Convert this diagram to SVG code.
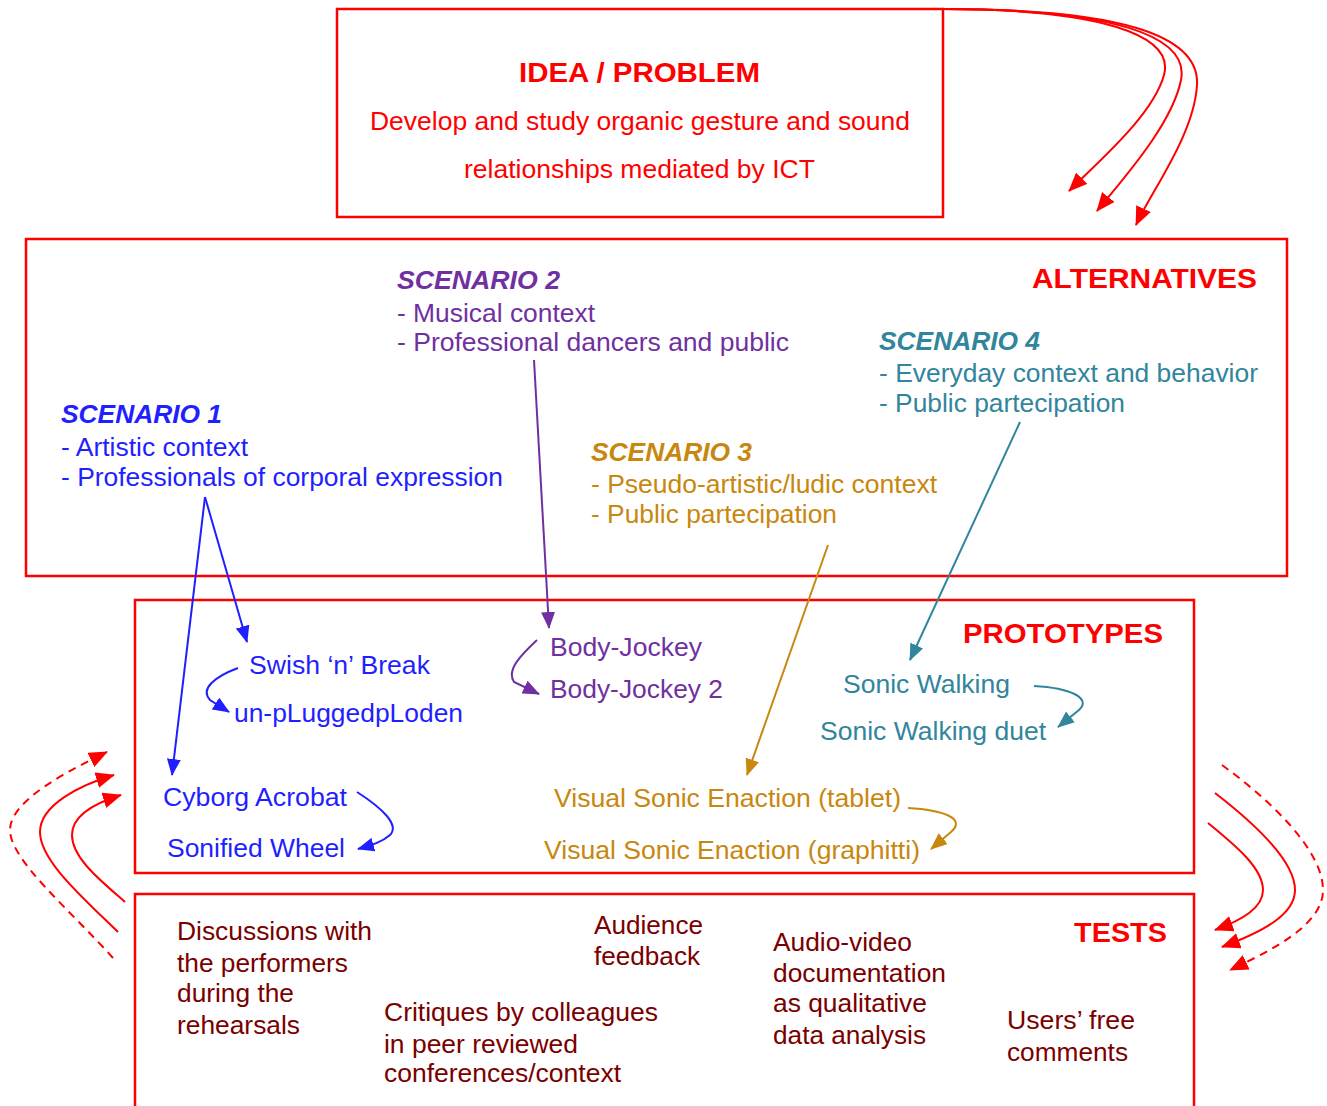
<svg xmlns="http://www.w3.org/2000/svg" width="1327" height="1106" viewBox="0 0 1327 1106">
<style>
text{font-family:"Liberation Sans",Arial,sans-serif;font-size:25px}
.box{fill:none;stroke:#ff0000;stroke-width:2.5}
.ttl{font-weight:bold;font-size:28px;fill:#ff0000}
.red{fill:#ff0000}
.sc{font-weight:bold;font-style:italic}
.b{fill:#1f1fff}.p{fill:#7030a0}.t{fill:#31859c}.g{fill:#c8870e}.d{fill:#7a0000}
.cb{fill:none;stroke:#1f1fff;stroke-width:2}
.cp{fill:none;stroke:#7030a0;stroke-width:2}
.ct{fill:none;stroke:#31859c;stroke-width:2}
.cg{fill:none;stroke:#c8870e;stroke-width:2}
.cr{fill:none;stroke:#ff0000;stroke-width:2}
.dash{stroke-dasharray:8,6}
</style>
<defs>
<marker id="ab" markerUnits="userSpaceOnUse" markerWidth="17" markerHeight="14" refX="16" refY="7" orient="auto"><path d="M0,0 L17,7 L0,14 z" fill="#1f1fff"/></marker>
<marker id="ap" markerUnits="userSpaceOnUse" markerWidth="17" markerHeight="14" refX="16" refY="7" orient="auto"><path d="M0,0 L17,7 L0,14 z" fill="#7030a0"/></marker>
<marker id="at" markerUnits="userSpaceOnUse" markerWidth="17" markerHeight="14" refX="16" refY="7" orient="auto"><path d="M0,0 L17,7 L0,14 z" fill="#31859c"/></marker>
<marker id="ag" markerUnits="userSpaceOnUse" markerWidth="17" markerHeight="14" refX="16" refY="7" orient="auto"><path d="M0,0 L17,7 L0,14 z" fill="#c8870e"/></marker>
<marker id="ar" markerUnits="userSpaceOnUse" markerWidth="19" markerHeight="16" refX="18" refY="8" orient="auto"><path d="M0,0 L19,8 L0,16 z" fill="#ff0000"/></marker>
</defs>

<g id="idea">
<rect class="box" x="337" y="9" width="606" height="208"/>
<text class="ttl" x="519" y="82" textLength="241" lengthAdjust="spacingAndGlyphs">IDEA / PROBLEM</text>
<text class="red" x="370" y="130" textLength="540" lengthAdjust="spacingAndGlyphs">Develop and study organic gesture and sound</text>
<text class="red" x="464" y="178" textLength="351" lengthAdjust="spacingAndGlyphs">relationships mediated by ICT</text>
</g>

<g id="alternatives">
<rect class="box" x="26" y="239" width="1261" height="337"/>
<text class="ttl" x="1032" y="288" textLength="225" lengthAdjust="spacingAndGlyphs">ALTERNATIVES</text>
</g>
<g id="scenario2">
<text class="sc p" x="397" y="289" textLength="163" lengthAdjust="spacingAndGlyphs">SCENARIO 2</text>
<text class="p" x="397" y="322" textLength="198" lengthAdjust="spacingAndGlyphs">- Musical context</text>
<text class="p" x="397" y="351" textLength="392" lengthAdjust="spacingAndGlyphs">- Professional dancers and public</text>
</g>
<g id="scenario4">
<text class="sc t" x="879" y="350" textLength="161" lengthAdjust="spacingAndGlyphs">SCENARIO 4</text>
<text class="t" x="879" y="382" textLength="379" lengthAdjust="spacingAndGlyphs">- Everyday context and behavior</text>
<text class="t" x="879" y="412" textLength="246" lengthAdjust="spacingAndGlyphs">- Public partecipation</text>
</g>
<g id="scenario1">
<text class="sc b" x="61" y="423" textLength="161" lengthAdjust="spacingAndGlyphs">SCENARIO 1</text>
<text class="b" x="61" y="456" textLength="187" lengthAdjust="spacingAndGlyphs">- Artistic context</text>
<text class="b" x="61" y="486" textLength="442" lengthAdjust="spacingAndGlyphs">- Professionals of corporal expression</text>
</g>
<g id="scenario3">
<text class="sc g" x="591" y="461" textLength="161" lengthAdjust="spacingAndGlyphs">SCENARIO 3</text>
<text class="g" x="591" y="493" textLength="346" lengthAdjust="spacingAndGlyphs">- Pseudo-artistic/ludic context</text>
<text class="g" x="591" y="523" textLength="246" lengthAdjust="spacingAndGlyphs">- Public partecipation</text>
</g>

<g id="prototypes">
<rect class="box" x="135" y="600" width="1059" height="273"/>
<text class="ttl" x="963" y="643" textLength="200" lengthAdjust="spacingAndGlyphs">PROTOTYPES</text>
</g>
<g id="swish"><text class="b" x="249" y="674" textLength="181" lengthAdjust="spacingAndGlyphs">Swish ‘n’ Break</text></g>
<g id="unplugged"><text class="b" x="234" y="722" textLength="229" lengthAdjust="spacingAndGlyphs">un-pLuggedpLoden</text></g>
<g id="cyborg"><text class="b" x="163" y="806" textLength="184" lengthAdjust="spacingAndGlyphs">Cyborg Acrobat</text></g>
<g id="wheel"><text class="b" x="167" y="857" textLength="178" lengthAdjust="spacingAndGlyphs">Sonified Wheel</text></g>
<g id="bodyjockey"><text class="p" x="550" y="656" textLength="152" lengthAdjust="spacingAndGlyphs">Body-Jockey</text></g>
<g id="bodyjockey2"><text class="p" x="550" y="698" textLength="173" lengthAdjust="spacingAndGlyphs">Body-Jockey 2</text></g>
<g id="sonicwalking"><text class="t" x="843" y="693" textLength="167" lengthAdjust="spacingAndGlyphs">Sonic Walking</text></g>
<g id="sonicduet"><text class="t" x="820" y="740" textLength="226" lengthAdjust="spacingAndGlyphs">Sonic Walking duet</text></g>
<g id="vsetablet"><text class="g" x="554" y="807" textLength="347" lengthAdjust="spacingAndGlyphs">Visual Sonic Enaction (tablet)</text></g>
<g id="vsegraph"><text class="g" x="544" y="859" textLength="376" lengthAdjust="spacingAndGlyphs">Visual Sonic Enaction (graphitti)</text></g>

<g id="tests">
<rect class="box" x="135" y="894" width="1059" height="230"/>
<text class="ttl" x="1074" y="942" textLength="93" lengthAdjust="spacingAndGlyphs">TESTS</text>
<text class="d" x="177" y="940" textLength="195" lengthAdjust="spacingAndGlyphs">Discussions with</text>
<text class="d" x="177" y="972" textLength="171" lengthAdjust="spacingAndGlyphs">the performers</text>
<text class="d" x="177" y="1002" textLength="117" lengthAdjust="spacingAndGlyphs">during the</text>
<text class="d" x="177" y="1034" textLength="123" lengthAdjust="spacingAndGlyphs">rehearsals</text>
<text class="d" x="594" y="934" textLength="109" lengthAdjust="spacingAndGlyphs">Audience</text>
<text class="d" x="594" y="965" textLength="106" lengthAdjust="spacingAndGlyphs">feedback</text>
<text class="d" x="384" y="1021" textLength="274" lengthAdjust="spacingAndGlyphs">Critiques by colleagues</text>
<text class="d" x="384" y="1053" textLength="194" lengthAdjust="spacingAndGlyphs">in peer reviewed</text>
<text class="d" x="384" y="1082" textLength="237" lengthAdjust="spacingAndGlyphs">conferences/context</text>
<text class="d" x="773" y="951" textLength="139" lengthAdjust="spacingAndGlyphs">Audio-video</text>
<text class="d" x="773" y="982" textLength="173" lengthAdjust="spacingAndGlyphs">documentation</text>
<text class="d" x="773" y="1012" textLength="154" lengthAdjust="spacingAndGlyphs">as qualitative</text>
<text class="d" x="773" y="1044" textLength="153" lengthAdjust="spacingAndGlyphs">data analysis</text>
<text class="d" x="1007" y="1029" textLength="128" lengthAdjust="spacingAndGlyphs">Users’ free</text>
<text class="d" x="1007" y="1061" textLength="121" lengthAdjust="spacingAndGlyphs">comments</text>
</g>

<g id="connectors">
<path class="cb" d="M205,497 L172,775" marker-end="url(#ab)"/>
<path class="cb" d="M205,497 L247,642" marker-end="url(#ab)"/>
<path class="cb" d="M238,668 C214,677 200,689 210,700 L229,712" marker-end="url(#ab)"/>
<path class="cb" d="M357,792 C382,808 400,825 390,835 C382,842 372,845 358,849" marker-end="url(#ab)"/>
<path class="cp" d="M534,360 L549,628" marker-end="url(#ap)"/>
<path class="cp" d="M537,640 C521,655 506,670 514,682 L539,694" marker-end="url(#ap)"/>
<path class="ct" d="M1020,422 L910,660" marker-end="url(#at)"/>
<path class="ct" d="M1034,686 C1070,688 1092,698 1079,710 L1058,727" marker-end="url(#at)"/>
<path class="cg" d="M828,545 L747,775" marker-end="url(#ag)"/>
<path class="cg" d="M908,808 C942,810 967,818 951,832 L931,849" marker-end="url(#ag)"/>
<path class="cr" d="M943,9 C1100,9 1175,35 1164,75 C1153,115 1100,160 1069,191" marker-end="url(#ar)"/>
<path class="cr" d="M943,9 C1110,9 1190,35 1181,80 C1172,125 1122,180 1097,211" marker-end="url(#ar)"/>
<path class="cr" d="M943,9 C1120,9 1200,35 1197,85 C1194,135 1152,190 1136,225" marker-end="url(#ar)"/>
<path class="cr dash" d="M113,958 C70,910 10,860 10,830 C10,800 70,770 107,752" marker-end="url(#ar)"/>
<path class="cr" d="M118,932 C80,895 40,860 40,832 C40,805 80,785 114,775" marker-end="url(#ar)"/>
<path class="cr" d="M125,902 C100,880 72,858 72,835 C72,815 95,803 121,795" marker-end="url(#ar)"/>
<path class="cr dash" d="M1222,765 C1270,800 1323,850 1323,890 C1323,925 1272,950 1230,970" marker-end="url(#ar)"/>
<path class="cr" d="M1215,793 C1250,820 1295,860 1295,890 C1295,915 1262,932 1222,947" marker-end="url(#ar)"/>
<path class="cr" d="M1208,823 C1235,845 1263,868 1263,890 C1263,908 1242,920 1215,930" marker-end="url(#ar)"/>
</g>
</svg>
